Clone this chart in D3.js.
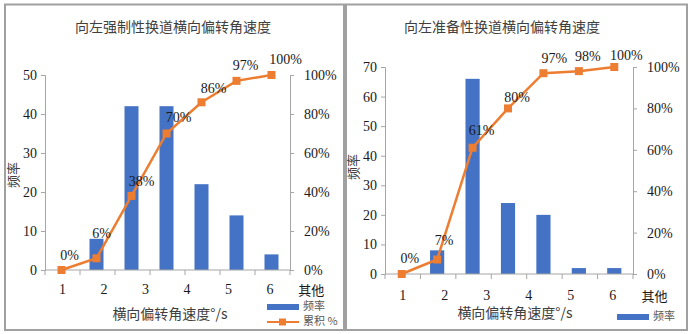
<!DOCTYPE html>
<html><head><meta charset="utf-8">
<script src="https://cdn.jsdelivr.net/npm/d3@7"></script>
<style>body{margin:0;background:#fff}svg{display:block}
.serif{font-family:"Liberation Serif","DejaVu Serif","Times New Roman",serif}
.cjk{font-family:"Noto Sans CJK SC","Noto Sans",sans-serif}
</style>
</head><body>
<svg id="c" width="690" height="334"></svg>
<script>
const categories = ["1","2","3","4","5","6","其他"];
const leftTitle = "向左强制性换道横向偏转角速度";
const rightTitle = "向左准备性换道横向偏转角速度";
const leftFreq = [0, 8, 42, 42, 22, 14, 4];
const leftCum = [0, 0.06, 0.38, 0.70, 0.86, 0.97, 1.00];
const rightFreq = [0, 8, 66, 24, 20, 2, 2];
const rightCum = [0, 0.07, 0.61, 0.80, 0.97, 0.98, 1.00];
const leftTicks = [0, 10, 20, 30, 40, 50];
const rightTicks = [0, 10, 20, 30, 40, 50, 60, 70];
const pctTicks = [0, 0.2, 0.4, 0.6, 0.8, 1.0];
const xTitle = "横向偏转角速度°/s";
const yTitle = "频率";
const legendBar = "频率";
const legendLine = "累积 %";

const svg = d3.select("#c");
const BAR = "#4472C4", LINE = "#ED7D31", AX = "#a6a6a6";

// frames
svg.append("rect").attr("x",5).attr("y",4.5).attr("width",339).attr("height",325.5)
  .attr("fill","none").attr("stroke","#a0a0a0").attr("stroke-width",2);
svg.append("rect").attr("x",346).attr("y",4.5).attr("width",341).attr("height",325.5)
  .attr("fill","none").attr("stroke","#a0a0a0").attr("stroke-width",2);

function panel(cfg){
  const g = svg.append("g");
  const x = d3.scaleBand().domain(categories).range([cfg.x0, cfg.x1]).padding(0);
  const bw = x.bandwidth();
  const y = d3.scaleLinear().domain([0, cfg.ymax]).range([cfg.yb, cfg.yt]);
  const y2 = d3.scaleLinear().domain([0, 1]).range([cfg.yb, cfg.yt]);
  const step = bw * 1.185;
  const xl = d3.scalePoint().domain(categories)
    .range([cfg.x0 + bw/2, cfg.x0 + bw/2 + step*(categories.length-1)]);

  // title
  g.append("text").attr("class","cjk").attr("x", cfg.tx).attr("y", 28).attr("text-anchor","middle")
    .attr("dominant-baseline","middle").attr("font-size",14)
    .attr("fill","#404040").text(cfg.title);

  // bars
  g.selectAll("rect.bar").data(cfg.freq).join("rect").attr("class","bar")
    .attr("x",(d,i)=>x(categories[i]) + bw*0.3 - 1)
    .attr("width", bw*0.4)
    .attr("y", d=>y(d)).attr("height", d=>y(0)-y(d))
    .attr("fill", BAR);

  // left axis
  const ay = g.append("g").attr("transform",`translate(${cfg.x0},0)`)
    .call(d3.axisLeft(y).tickValues(cfg.ticks).tickSize(4).tickPadding(4));
  // right axis
  const ay2 = g.append("g").attr("transform",`translate(${cfg.x1},0)`)
    .call(d3.axisRight(y2).tickValues(pctTicks).tickFormat(d3.format(".0%")).tickSize(4).tickPadding(10));
  // x axis line
  const ax = g.append("g").attr("transform",`translate(0,${cfg.yb})`)
    .call(d3.axisBottom(x).tickSize(0).tickFormat(""));
  [ay, ay2, ax].forEach(a=>{
    a.attr("font-family",null).attr("font-size",null);
    a.select(".domain").attr("stroke",AX).attr("stroke-width",1);
    a.selectAll(".tick line").attr("stroke",AX);
    a.selectAll(".tick text").attr("class","serif").style("font-size","14px").attr("fill","#1a1a1a");
  });
  ax.select(".domain").attr("d", `M${cfg.x0},0H${cfg.x1}`);
  g.selectAll("line.bt").data(d3.range(categories.length+1)).join("line").attr("class","bt")
    .attr("x1",i=>cfg.x0 + i*bw).attr("x2",i=>cfg.x0 + i*bw)
    .attr("y1",cfg.yb).attr("y2",cfg.yb+5).attr("stroke",AX);

  // category labels
  g.selectAll("text.cat").data(categories).join("text")
    .attr("class", d=> /\d/.test(d) ? "cat serif" : "cat cjk")
    .attr("x", d=>xl(d)).attr("y", cfg.yb + cfg.catDy)
    .attr("text-anchor","middle").attr("dominant-baseline","middle")
    .style("font-size", d=> /\d/.test(d) ? "14px" : "13px")
    .attr("fill","#1a1a1a").text(d=>d);

  // axis titles
  g.append("text").attr("class","cjk").attr("x", cfg.xtx).attr("y", cfg.xty).attr("text-anchor","middle")
    .attr("dominant-baseline","middle").attr("font-size",14).attr("fill","#404040")
    .text(xTitle);
  g.append("text").attr("class","cjk").attr("transform",`translate(${cfg.ytx},${cfg.yty}) rotate(-90)`)
    .attr("text-anchor","middle").attr("dominant-baseline","middle")
    .attr("font-size",13).attr("fill","#404040").text(yTitle);

  // cumulative line
  const cx = (i)=> x(categories[i]) + bw/2 - 1;
  const line = d3.line().x((d,i)=>cx(i)).y(d=>y2(d));
  g.append("path").datum(cfg.cum).attr("d",line).attr("fill","none")
    .attr("stroke",LINE).attr("stroke-width",2.5);
  g.selectAll("rect.mk").data(cfg.cum).join("rect").attr("class","mk")
    .attr("x",(d,i)=>cx(i)-4).attr("y",d=>y2(d)-4).attr("width",8).attr("height",8)
    .attr("fill",LINE);
  g.selectAll("text.lbl").data(cfg.cum).join("text").attr("class","lbl serif")
    .attr("x",(d,i)=>cx(i)+cfg.ldx[i]).attr("y",(d,i)=>y2(d)+cfg.ldy[i])
    .attr("text-anchor","middle").attr("dominant-baseline","middle")
    .style("font-size","14px").attr("fill","#1a1a1a")
    .text(d=>d3.format(".0%")(d));

  // legend
  const L = cfg.legend;
  g.append("rect").attr("x",L.x).attr("y",L.y-3).attr("width",32).attr("height",6).attr("fill",BAR);
  g.append("text").attr("class","cjk").attr("x",L.x+36).attr("y",L.y).attr("dominant-baseline","middle")
    .attr("font-size",11).attr("fill","#595959").text(legendBar);
  if (L.line){
    g.append("line").attr("x1",L.x).attr("x2",L.x+32).attr("y1",L.y+15).attr("y2",L.y+15)
      .attr("stroke",LINE).attr("stroke-width",2);
    g.append("rect").attr("x",L.x+12).attr("y",L.y+11.5).attr("width",7).attr("height",7).attr("fill",LINE);
    g.append("text").attr("class","cjk").attr("x",L.x+36).attr("y",L.y+15).attr("dominant-baseline","middle")
      .attr("font-size",11).attr("fill","#595959").text(legendLine);
  }
}

panel({title:leftTitle, tx:173, x0:45, x1:290, yb:270, yt:75, ymax:50, ticks:leftTicks,
  freq:leftFreq, cum:leftCum, catDy:21, xtx:170, xty:315, ytx:14, yty:175,
  ldx:[8,5,10,12,12,9,14], ldy:[-13,-24,-13,-15,-13,-14,-14],
  legend:{x:267, y:307, line:true}});
panel({title:rightTitle, tx:502, x0:385, x1:633, yb:274, yt:67, ymax:70, ticks:rightTicks,
  freq:rightFreq, cum:rightCum, catDy:23, xtx:515, xty:314, ytx:354, yty:167,
  ldx:[8,7,9,9,11,9,12], ldy:[-14,-18,-16,-10,-13,-13,-10],
  legend:{x:617, y:317, line:false}});
</script>
</body></html>
